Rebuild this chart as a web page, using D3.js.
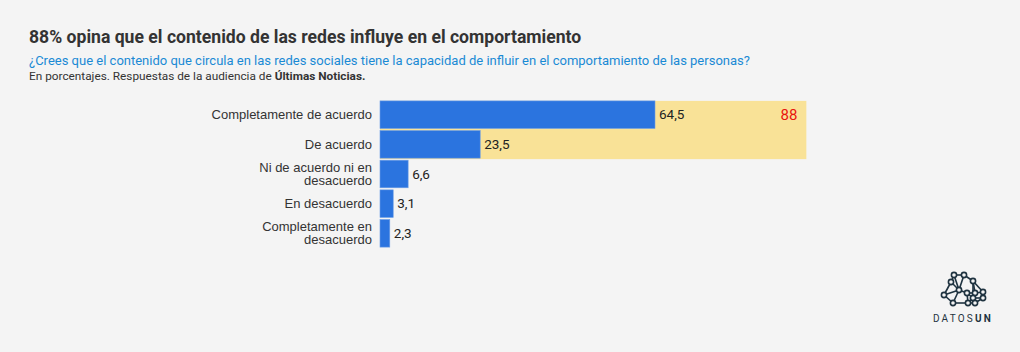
<!DOCTYPE html>
<html>
<head>
<meta charset="utf-8">
<script src="https://cdn.jsdelivr.net/npm/d3@7"></script>
<style>
  body { margin: 0; background: #f4f4f4; }
  svg { display: block; font-family: "Roboto", sans-serif; }
</style>
</head>
<body>
<div id="chart"></div>
<script>
const categories = [
  'Completamente de acuerdo',
  'De acuerdo',
  'Ni de acuerdo ni en desacuerdo',
  'En desacuerdo',
  'Completamente en desacuerdo'
]
const values = [64.5, 23.5, 6.6, 3.1, 2.3]
const highlightTotal = 88
const highlightMax = 100
const highlightRows = ['Completamente de acuerdo', 'De acuerdo']

const W = 1020
const H = 352
const margin = { top: 100, left: 380 }

const svg = d3.select('#chart').append('svg')
  .attr('width', W)
  .attr('height', H)

svg.append('rect')
  .attr('width', W)
  .attr('height', H)
  .attr('fill', '#f4f4f4')

// titles
svg.append('text')
  .attr('x', 29).attr('y', 43)
  .attr('font-size', 17.6)
  .attr('font-weight', 'bold')
  .attr('fill', '#333')
  .text('88% opina que el contenido de las redes influye en el comportamiento')
svg.append('text')
  .attr('x', 29).attr('y', 65)
  .attr('font-size', 13)
  .attr('fill', '#1a8ad4')
  .text('¿Crees que el contenido que circula en las redes sociales tiene la capacidad de influir en el comportamiento de las personas?')
let sub = svg.append('text')
  .attr('x', 29).attr('y', 80)
  .attr('font-size', 11.8)
  .attr('fill', '#333')
sub.append('tspan').text('En porcentajes. Respuestas de la audiencia de ')
sub.append('tspan').attr('font-weight', 'bold').text('Últimas Noticias.')

// scales
let xs = d3.scaleLinear()
  .domain([0, 64.5])
  .range([0, 275])
let ys = d3.scaleBand()
  .domain(categories)
  .range([0, 148])
  .paddingInner(0.07)
  .paddingOuter(0.03)

let g = svg.append('g')
  .attr('transform', `translate(${margin.left},${margin.top})`)

// yellow highlight box behind first two rows
let hTop = ys(highlightRows[0])
let hBot = ys(highlightRows[highlightRows.length - 1]) + ys.bandwidth()
g.append('rect')
  .attr('x', 0)
  .attr('y', hTop)
  .attr('width', xs(highlightMax))
  .attr('height', hBot - hTop + 1)
  .attr('fill', '#f9e297')
g.append('text')
  .attr('x', xs(highlightMax) - 9)
  .attr('y', hTop + ys.bandwidth() / 2)
  .attr('dy', '0.35em')
  .attr('text-anchor', 'end')
  .attr('font-size', 15)
  .attr('fill', '#e8150e')
  .text(highlightTotal)

// bars
g.selectAll('.bar')
  .data(values)
  .enter()
  .append('rect')
  .attr('class', 'bar')
  .attr('x', 0)
  .attr('y', (d, i) => ys(categories[i]))
  .attr('width', (d) => xs(d))
  .attr('height', ys.bandwidth())
  .attr('fill', '#2b74df')
  .attr('stroke', '#6e9fe6')
  .attr('stroke-width', 0.6)

const loc = d3.formatLocale({ decimal: ',', thousands: '.', grouping: [3], currency: ['', ''] })
const fmt = loc.format('.1f')

g.selectAll('.val')
  .data(values)
  .enter()
  .append('text')
  .attr('class', 'val')
  .attr('x', (d) => xs(d) + 4)
  .attr('y', (d, i) => ys(categories[i]) + ys.bandwidth() / 2)
  .attr('dy', '0.35em')
  .attr('font-size', 13.5)
  .attr('fill', '#222')
  .text((d) => fmt(d))

// category labels, long ones wrapped on the last word
let yAxis = g.append('g')
  .call(d3.axisLeft(ys).tickSize(0).tickPadding(8))
yAxis.select('.domain').remove()
yAxis.selectAll('text')
  .attr('font-size', 13)
  .attr('font-family', null)
  .attr('fill', '#333')
  .each(function (d) {
    let t = d3.select(this)
    let words = d.split(' ')
    let lines = d.length > 25 ? [words.slice(0, -1).join(' '), words[words.length - 1]] : [d]
    t.text(null).attr('dy', null)
    lines.forEach((l, i) => {
      t.append('tspan')
        .attr('x', -8)
        .attr('dy', i === 0 ? ((0.35 - (lines.length - 1) * 0.5) + 'em') : '1.0em')
        .text(l)
    })
  })

// logo
let logo = svg.append('g').attr('transform', 'translate(963,294)')
const nodes = [[-9, -19], [1, -19], [10, -13], [-12, -12], [-19, 1], [-4, -4], [4, -1], [12, -1], [20, -2], [5, 9], [10, 4], [20, 4], [12, 9], [-10, 9]]
const links = [[0, 1], [1, 2], [0, 3], [3, 4], [3, 5], [0, 5], [5, 6], [6, 7], [7, 8], [2, 8], [2, 7], [2, 10], [5, 4], [4, 13], [13, 5], [6, 9], [9, 13], [9, 10], [10, 11], [11, 8], [10, 12], [12, 11], [9, 12], [1, 5], [6, 10]]
logo.selectAll('line')
  .data(links)
  .enter()
  .append('line')
  .attr('x1', (d) => nodes[d[0]][0]).attr('y1', (d) => nodes[d[0]][1])
  .attr('x2', (d) => nodes[d[1]][0]).attr('y2', (d) => nodes[d[1]][1])
  .attr('stroke', '#1f3340')
  .attr('stroke-width', 1.6)
logo.selectAll('circle')
  .data(nodes)
  .enter()
  .append('circle')
  .attr('cx', (d) => d[0]).attr('cy', (d) => d[1])
  .attr('r', 2.6)
  .attr('fill', '#f4f4f4')
  .attr('stroke', '#1f3340')
  .attr('stroke-width', 1.6)
let lt = svg.append('text')
  .attr('x', 963).attr('y', 322)
  .attr('text-anchor', 'middle')
  .attr('font-family', 'Roboto, sans-serif')
  .attr('font-size', 10)
  .attr('letter-spacing', 2.2)
  .attr('fill', '#1f3340')
lt.append('tspan').text('DATOS')
lt.append('tspan').attr('font-weight', 'bold').text('UN')
</script>
</body>
</html>
